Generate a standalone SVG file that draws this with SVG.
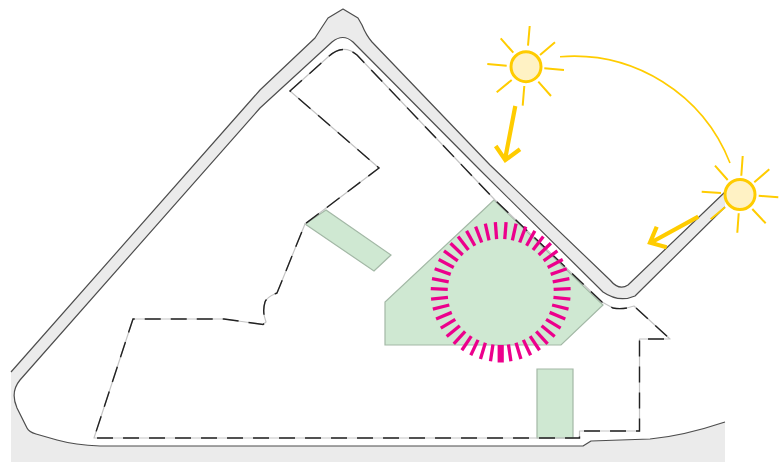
<svg xmlns="http://www.w3.org/2000/svg" width="779" height="462" viewBox="0 0 779 462">
<style>
.edge{fill:none;stroke:#4d4d4d;stroke-width:1.2;stroke-linejoin:round}
.green{fill:#cfe8d2;stroke:#a3b8a6;stroke-width:1.2}
.base{fill:none;stroke:#c4c4c4;stroke-width:1.2;stroke-linejoin:round}
.dash{fill:none;stroke:#222;stroke-width:1.4;stroke-dasharray:16 10;stroke-linejoin:miter}
.sun{fill:#fff2c4;stroke:#ffcc00;stroke-width:3}
.ray{fill:none;stroke:#ffcc00;stroke-width:2;stroke-linecap:butt}
.arc{fill:none;stroke:#ffcc00;stroke-width:1.6}
.arrow{fill:none;stroke:#ffcc00;stroke-width:4.2;stroke-linejoin:miter}
</style>
<defs>
<line id="t" x1="0" y1="-53" x2="0" y2="-70" stroke="#ec008c" stroke-width="3.300"/>
</defs>
<g id="ground">
<path fill="#ebebeb" d="M11 372L260 90L315 38Q322 27 328 18L343 9L358 18L362 25Q366 35 372 42L490 165L610 280Q619 291 628 285L725 192V207L635 296Q619 303 603 292L480 170L353 42Q343 33 332 42L260 108L20 380Q10 392 17 408L27 428Q29 432 36 434L57 440Q75 445 100 446L583 446L591 441L650 439Q683 436 725 422V462H11Z"/>
<path class="edge" d="M11 372L260 90L315 38Q322 27 328 18L343 9L358 18L362 25Q366 35 372 42L490 165L610 280Q619 291 628 285L725 192"/>
<path class="edge" d="M725 207L635 296Q619 303 603 292L480 170L353 42Q343 33 332 42L260 108L20 380Q10 392 17 408L27 428Q29 432 36 434L57 440Q75 445 100 446L583 446L591 441L650 439Q683 436 725 422"/>
</g>
<g id="green-areas">
<path id="court" class="green" d="M494 200L385 302V345H561L603 305Z"/>
<path id="strip" class="green" d="M305 224L326 210L391 255L374 271Z"/>
<path id="block" class="green" d="M537 369H573V438H537Z"/>
</g>
<g id="site-boundary">
<path id="boundary-base" class="base" d="M290 91L328 57Q343 43 357 55L495 200L602 302L613 308Q623 310 634 306L670 339H639.500V431H579.500V438H94L133 319H224L263 324.500L266 322Q262 312 265 302Q267 297 277 293L305 224L379 168Z"/>
<path id="boundary-dash" class="dash" d="M290 91L328 57Q343 43 357 55L495 200L602 302L613 308Q623 310 634 306L670 339H639.500V431H579.500V438H94L133 319H224L263 324.500L266 322Q262 312 265 302Q267 297 277 293L305 224L379 168Z"/>
</g>
<g id="ring" transform="translate(500.700 292)">
<use href="#t" transform="rotate(4.400)"/><use href="#t" transform="rotate(12.700)"/><use href="#t" transform="rotate(21)"/><use href="#t" transform="rotate(29.200)"/><use href="#t" transform="rotate(37.500)"/><use href="#t" transform="rotate(45.800)"/><use href="#t" transform="rotate(54.100)"/><use href="#t" transform="rotate(62.400)"/><use href="#t" transform="rotate(70.600)"/><use href="#t" transform="rotate(78.900)"/><use href="#t" transform="rotate(87.200)"/>
<use href="#t" transform="rotate(95.800)"/><use href="#t" transform="rotate(104.200)"/><use href="#t" transform="rotate(112.600)"/><use href="#t" transform="rotate(121.100)"/><use href="#t" transform="rotate(129.500)"/><use href="#t" transform="rotate(137.900)"/><use href="#t" transform="rotate(146.300)"/><use href="#t" transform="rotate(154.700)"/><use href="#t" transform="rotate(163.200)"/><use href="#t" transform="rotate(171.600)"/>
<line x1="0" y1="53" x2="0" y2="70.500" stroke="#ec008c" stroke-width="6.200"/>
<use href="#t" transform="rotate(-4.400)"/><use href="#t" transform="rotate(-12.700)"/><use href="#t" transform="rotate(-21)"/><use href="#t" transform="rotate(-29.200)"/><use href="#t" transform="rotate(-37.500)"/><use href="#t" transform="rotate(-45.800)"/><use href="#t" transform="rotate(-54.100)"/><use href="#t" transform="rotate(-62.400)"/><use href="#t" transform="rotate(-70.600)"/><use href="#t" transform="rotate(-78.900)"/><use href="#t" transform="rotate(-87.200)"/>
<use href="#t" transform="rotate(-95.800)"/><use href="#t" transform="rotate(-104.200)"/><use href="#t" transform="rotate(-112.600)"/><use href="#t" transform="rotate(-121.100)"/><use href="#t" transform="rotate(-129.500)"/><use href="#t" transform="rotate(-137.900)"/><use href="#t" transform="rotate(-146.300)"/><use href="#t" transform="rotate(-154.700)"/><use href="#t" transform="rotate(-163.200)"/><use href="#t" transform="rotate(-171.600)"/>
</g>
<g id="sun-morning">
<path class="ray" d="M529.700 26L528 45.700M555 42.300L540 55M564 70L544.300 68.300M551 96L538.300 81.700M524.300 86L522.700 105.700M511.700 80L496.700 92.300M506.700 65.700L487.300 64M513.300 52.700L500.700 38.300"/>
<circle class="sun" cx="526" cy="66.700" r="15"/>
</g>
<g id="sun-evening">
<path class="ray" d="M742.700 156L741.300 175.700M769.300 169.300L754.300 182.300M778.300 197.300L758.700 195.700M765.700 223.300L752.300 209M738.700 213.300L737.300 232.700M725 207.300L710.700 219.300M721 193L701.700 191.700M727.700 180L715 165.700"/>
<circle class="sun" cx="740" cy="194.500" r="15"/>
</g>
<g id="connectors">
<path class="arc" d="M560 56.700A168 168 0 0 1 730 163"/>
<path class="arrow" d="M515.300 106L505.300 158M495.700 146L505.300 160L520 149.300"/>
<path class="arrow" d="M698.300 216.700L652 242M656.700 226.700L650 242.700L666.700 247.300"/>
</g>
</svg>
